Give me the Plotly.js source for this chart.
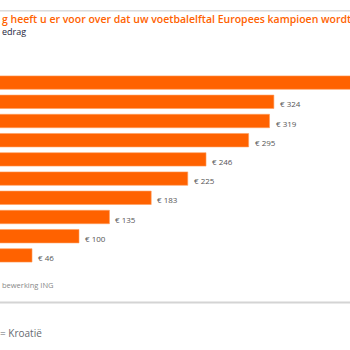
<!DOCTYPE html>
<html>
<head>
<meta charset="utf-8">
<script src="https://cdn.plot.ly/plotly-3.0.1.min.js"></script>
<style>html,body{margin:0;padding:0;background:#fff;}#chart{width:350px;height:350px;}</style>
</head>
<body>
<div id="chart"></div>
<script>
// Data (top bar's value lies beyond the visible crop; estimated)
var categories = ["Land 1","Land 2","Land 3","Land 4","Land 5","Land 6","Land 7","Land 8","Land 9","Land 10"];
var values = [440, 324, 319, 295, 246, 225, 183, 135, 100, 46];
var valueLabels = ["€ 440","€ 324","€ 319","€ 295","€ 246","€ 225","€ 183","€ 135","€ 100","€ 46"];

var W = 350, H = 350;
var plotTop = 73, plotBottom = 264.6;
var plotH = plotBottom - plotTop;
function py(px){ return (plotBottom - px) / plotH; }
function pxX(px){ return px / W; }

var orange = '#FF6200';
var font = '"Open Sans", "Noto Sans", sans-serif';

var annotations = [];
for (var i = 0; i < values.length; i++) {
  annotations.push({
    x: values[i], y: categories[i], xref: 'x', yref: 'y',
    text: valueLabels[i], showarrow: false, xanchor: 'left', yanchor: 'middle',
    xshift: 4, yshift: -2,
    font: {family: font, size: 8, color: '#555555'}
  });
}
annotations.push({
  xref: 'paper', yref: 'paper', x: pxX(0), y: py(19), xanchor: 'left', yanchor: 'middle',
  text: 'g heeft u er voor over dat uw voetbalelftal Europees kampioen wordt', showarrow: false,
  font: {family: font, size: 10.5, color: orange, weight: 600}
});
annotations.push({
  xref: 'paper', yref: 'paper', x: pxX(0), y: py(32), xanchor: 'left', yanchor: 'middle',
  text: 'edrag', showarrow: false,
  font: {family: font, size: 9, color: '#1e1e3c'}
});
annotations.push({
  xref: 'paper', yref: 'paper', x: pxX(0), y: py(285), xanchor: 'left', yanchor: 'middle',
  text: 'bewerking ING', showarrow: false,
  font: {family: font, size: 7.5, color: '#888888'}
});
annotations.push({
  xref: 'paper', yref: 'paper', x: pxX(-2), y: py(332), xanchor: 'left', yanchor: 'middle',
  text: '= Kroatië', showarrow: false,
  font: {family: font, size: 10, color: '#666a70'}
});

var shapes = [
  {type: 'line', xref: 'paper', yref: 'paper', x0: 0, x1: 1, y0: py(11), y1: py(11),
   line: {color: '#c8c8c8', width: 1}},
  {type: 'line', xref: 'paper', yref: 'paper', x0: 0, x1: 1, y0: py(302), y1: py(302),
   line: {color: '#d4d4d4', width: 2}}
];

var trace = {
  type: 'bar', orientation: 'h',
  x: values, y: categories,
  marker: {color: orange, line: {color: '#ff9d5c', width: 0.6}},
  hoverinfo: 'none'
};

var layout = {
  width: W, height: H,
  margin: {l: 0, r: 0, t: plotTop, b: H - plotBottom, pad: 0},
  paper_bgcolor: '#ffffff', plot_bgcolor: '#ffffff',
  showlegend: false,
  bargap: 0.3,
  xaxis: {range: [9.2, 411.5], showgrid: false, zeroline: false, showticklabels: false, showline: false, ticks: '', fixedrange: true},
  yaxis: {type: 'category', autorange: 'reversed', showgrid: false, zeroline: false, showticklabels: false, showline: false, ticks: '', fixedrange: true},
  annotations: annotations,
  shapes: shapes
};

Plotly.newPlot('chart', [trace], layout, {displayModeBar: false, staticPlot: true});
</script>
</body>
</html>
